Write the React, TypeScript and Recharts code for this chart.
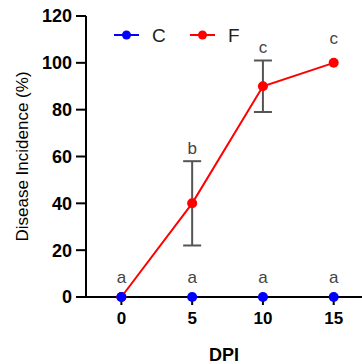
import { LineChart, Line, XAxis, YAxis, ErrorBar, LabelList } from 'recharts'

// days post inoculation
const dpi = [0, 5, 10, 15]
const controlValues = [0, 0, 0, 0]
const fungusValues = [0, 40, 90, 100]
const fungusErr = [0, 18, 11, 0]
const controlLetters = ['a', 'a', 'a', 'a']
const fungusLetters = ['', 'b', 'c', 'c']
const yTicks = [0, 20, 40, 60, 80, 100, 120]
const xTicks = [0, 5, 10, 15]

const FONT = '"Liberation Sans", Arial, sans-serif'

const data = dpi.map((d, i) => ({
  dpi: d,
  C: controlValues[i],
  F: fungusValues[i],
  fErr: fungusErr[i] > 0 ? fungusErr[i] : null,
  fTop: fungusValues[i] + fungusErr[i],
}))

const legendItems = [
  { name: 'C', color: '#0000ff' },
  { name: 'F', color: '#ff0000' },
]

// legend drawn on top of the chart so it doesn't shrink the plot area
function LegendOverlay() {
  return (
    <svg
      width={160}
      height={22}
      style={{ position: 'absolute', left: 110, top: 24, pointerEvents: 'none' }}
    >
      {legendItems.map((item, i) => (
        <g key={item.name} transform={`translate(${i * 76}, 0)`}>
          <line x1={4} x2={29} y1={11} y2={11} stroke={item.color} strokeWidth={2} />
          <circle cx={16.5} cy={11} r={4.5} fill={item.color} />
          <text x={42} y={18} fontSize={19} fill="#222" fontFamily={FONT}>
            {item.name}
          </text>
        </g>
      ))}
    </svg>
  )
}

const letterLabel = (letters: string[], errs: number[] | null) => (props: any) => {
  const { x, y, index } = props
  const txt = letters[index]
  if (!txt) return null
  const off = errs ? (errs[index] > 0 ? 7 : 19) : 14
  return (
    <text x={x} y={y - off} textAnchor="middle" fontSize={17} fill="#444" fontFamily={FONT}>
      {txt}
    </text>
  )
}

export default function App() {
  return (
    <div style={{ position: 'absolute', left: 0, top: 0, width: 362, height: 364, background: '#fff' }}>
      <LineChart
        width={362}
        height={364}
        data={data}
        margin={{ top: 16, right: 0, left: 0, bottom: 0 }}
      >
        <XAxis
          type="number"
          dataKey="dpi"
          domain={[-2.5, 17]}
          ticks={xTicks}
          allowDataOverflow
          height={67}
          tickSize={8}
          tickMargin={7}
          axisLine={{ stroke: '#000', strokeWidth: 2 }}
          tickLine={{ stroke: '#000', strokeWidth: 2 }}
          tick={{ fontSize: 17, fontWeight: 'bold', fill: '#000', fontFamily: FONT }}
          label={{
            value: 'DPI',
            position: 'insideBottom',
            offset: 3,
            style: { fontSize: 18, fontWeight: 'bold', fill: '#000', fontFamily: FONT },
          }}
        />
        <YAxis
          domain={[0, 120]}
          ticks={yTicks}
          width={86}
          tickSize={10}
          tickMargin={4}
          axisLine={{ stroke: '#000', strokeWidth: 2 }}
          tickLine={{ stroke: '#000', strokeWidth: 2 }}
          tick={{ fontSize: 18, fontWeight: 'bold', fill: '#000', fontFamily: FONT }}
          label={{
            value: 'Disease Incidence (%)',
            angle: -90,
            position: 'insideLeft',
            offset: 22,
            style: { textAnchor: 'middle', fontSize: 17, fill: '#000', fontFamily: FONT },
          }}
        />
        <Line
          dataKey="fTop"
          stroke="none"
          dot={false}
          activeDot={false}
          legendType="none"
          isAnimationActive={false}
        >
          <LabelList dataKey="fTop" content={letterLabel(fungusLetters, fungusErr)} />
        </Line>
        <Line
          dataKey="F"
          stroke="#ff0000"
          strokeWidth={2}
          dot={{ r: 5, fill: '#ff0000', stroke: 'none' }}
          activeDot={false}
          isAnimationActive={false}
        >
          <ErrorBar dataKey="fErr" width={9} stroke="#555" strokeWidth={2} direction="y" />
        </Line>
        <Line
          dataKey="C"
          stroke="none"
          dot={{ r: 5, fill: '#0000ff', stroke: 'none' }}
          activeDot={false}
          isAnimationActive={false}
        >
          <LabelList dataKey="C" content={letterLabel(controlLetters, null)} />
        </Line>
      </LineChart>
      <LegendOverlay />
    </div>
  )
}
